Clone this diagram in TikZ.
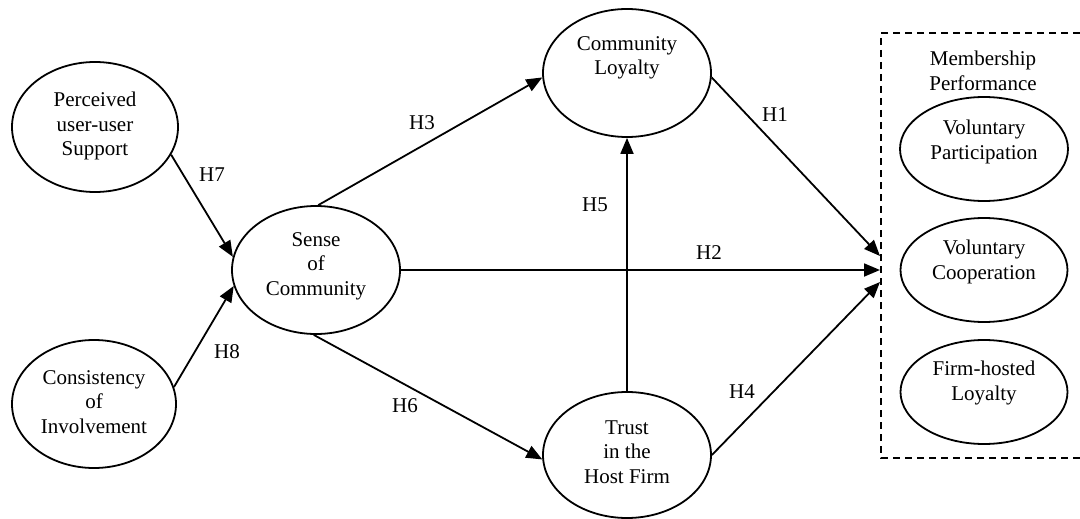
\documentclass[tikz,border=0pt]{standalone}
\usepackage{fontspec}
\setmainfont{Liberation Serif}
\usetikzlibrary{arrows.meta,shapes.geometric}
\begin{document}
\begin{tikzpicture}[x=1pt,y=-1pt,
  ell/.style={draw,ellipse,line width=1.8pt,inner sep=0pt},
  txt/.style={align=center,font=\fontsize{21}{24.5}\selectfont,inner sep=0pt},
  hyp/.style={font=\fontsize{21}{24.5}\selectfont,inner sep=0pt},
  conn/.style={line width=1.8pt,-{Triangle[length=16pt,width=13pt]}},
  dbox/.style={draw,line width=1.8pt,dash pattern=on 7pt off 5pt}]
\useasboundingbox (0,0) rectangle (1080,519);

% dashed outcome box
\draw[dbox] (1092,33) -- (881,33) -- (881,458) -- (1092,458);
\node[txt] (mp) at (983,71) {Membership\\Performance};

% ellipses
\node[ell,minimum width=166pt,minimum height=130pt] (pus) at (95,127) {};
\node[txt] (pust) at (95,126) {Perceived\\user-user\\Support};
\node[ell,minimum width=164pt,minimum height=128pt] (coi) at (94,404) {};
\node[txt] (coit) at (94,402) {Consistency\\of\\Involvement};
\node[ell,minimum width=168pt,minimum height=128pt] (soc) at (316,270) {};
\node[txt] (soct) at (316,266) {Sense\\of\\Community};
\node[ell,minimum width=168pt,minimum height=128pt] (cl) at (627,73) {};
\node[txt] (clt) at (627,58) {Community\\Loyalty};
\node[ell,minimum width=168pt,minimum height=126pt] (tr) at (627,455) {};
\node[txt] (trt) at (627,452) {Trust\\in the\\Host Firm};
\node[ell,minimum width=168pt,minimum height=104pt] (vp) at (984,149) {};
\node[txt] (vpt) at (984,142) {Voluntary\\Participation};
\node[ell,minimum width=167pt,minimum height=104pt] (vc) at (984,270) {};
\node[txt] (vct) at (984,262) {Voluntary\\Cooperation};
\node[ell,minimum width=167pt,minimum height=104pt] (fl) at (984,392) {};
\node[txt] (flt) at (984,383) {Firm-hosted\\Loyalty};

% free ends on the dashed box
\coordinate (e1) at (880,256);
\coordinate (e2) at (880,270);
\coordinate (e4) at (880,282);

% connectors
\draw[conn] (pus.-20) -- (soc.171);
\draw[conn] (coi.12) -- (soc.191);
\draw[conn] (soc.88) -- (cl.183);
\draw[conn] (soc.268) -- (tr.183);
\draw[conn] (tr.north) -- (cl.south);
\draw[conn] (cl.-3) -- (e1);
\draw[conn] (soc.east) -- (e2);
\draw[conn] (tr.east) -- (e4);

% hypothesis labels
\node[hyp] (h7) at (212,175) {H7};
\node[hyp] (h8) at (227,352) {H8};
\node[hyp] (h3) at (422,123) {H3};
\node[hyp] (h5) at (595,205) {H5};
\node[hyp] (h6) at (405,406) {H6};
\node[hyp] (h2) at (709,253) {H2};
\node[hyp] (h4) at (742,392) {H4};
\node[hyp] (h1) at (775,115) {H1};
\end{tikzpicture}
\end{document}
